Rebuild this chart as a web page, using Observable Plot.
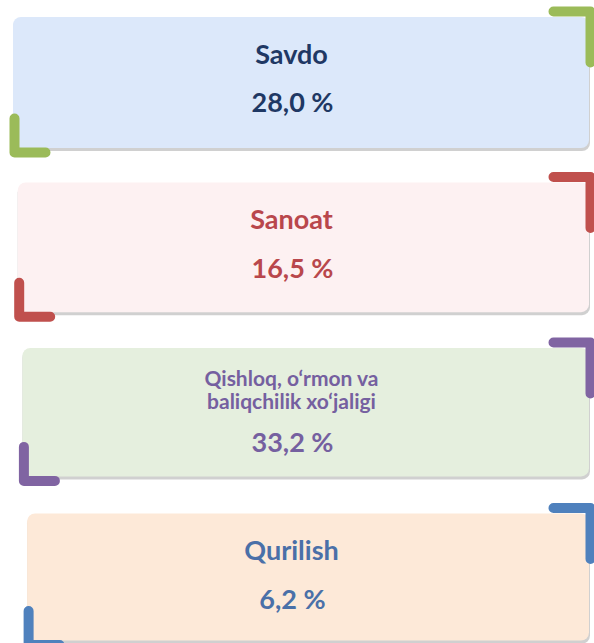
<!DOCTYPE html>
<html>
<head>
<meta charset="utf-8">
<script src="https://cdn.jsdelivr.net/npm/d3@7"></script>
<script src="https://cdn.jsdelivr.net/npm/@observablehq/plot@0.6"></script>
<style>
  html, body { margin: 0; padding: 0; background: #ffffff; }
  #chart svg { display: block; }
</style>
</head>
<body>
<div id="chart"></div>
<script>
// ---- data ----
const sectors = ["Savdo", "Sanoat", "Qishloq, o‘rmon va\nbaliqchilik xo‘jaligi", "Qurilish"];
const shares = [28.0, 16.5, 33.2, 6.2];
const accentColors = ["#9bbb59", "#c0504d", "#8064a2", "#4f81bd"];
const boxFills = ["#dce8fa", "#fdf1f2", "#e5efde", "#fde9d8"];
const textColors = ["#1f3864", "#b9474c", "#7560a0", "#4a70a8"];

// ---- layout (derived from row index) ----
const W = 594, H = 643;
const fmt = v => d3.format(".1f")(v).replace(".", ",") + " %";
const rows = sectors.map((s, i) => {
  const top = 17 + i * 165.5;
  const bottom = top + 131 - i * 1.3;
  const left = 13 + i * 4.7;
  const right = 589;
  return {i, sector: s, share: shares[i], label: fmt(shares[i]), top, bottom, left, right,
    multiline: s.includes("\n")};
});

const brackets = [];
rows.forEach(r => {
  const tr = [[553, r.top - 6], [590, r.top - 6], [590, r.top + 45]];
  const bl = [[r.left + 1, r.bottom - 30], [r.left + 1, r.bottom + 4], [r.left + 32, r.bottom + 4]];
  tr.forEach(([x, y]) => brackets.push({id: r.i + "tr", i: r.i, x, y}));
  bl.forEach(([x, y]) => brackets.push({id: r.i + "bl", i: r.i, x, y}));
});

const labelRows = rows.map(r => ({...r, y: r.multiline ? r.top + 42 : r.top + 37}));
const valueRows = rows.map(r => ({...r, y: r.multiline ? r.top + 95 : r.top + 86}));

const chart = Plot.plot({
  width: W,
  height: H,
  margin: 0,
  x: {domain: [0, W], range: [0, W], axis: null},
  y: {domain: [0, H], range: [0, H], axis: null},
  marks: [
    // shadow
    Plot.rect(rows, {x1: "left", x2: d => d.right + 1, y1: d => d.top + 2, y2: d => d.bottom + 3,
      fill: "#c4c4c4", rx: 8, fillOpacity: 0.8}),
    // boxes
    Plot.rect(rows, {x1: "left", x2: "right", y1: "top", y2: "bottom",
      fill: d => boxFills[d.i], rx: 8}),
    // brackets
    Plot.line(brackets, {x: "x", y: "y", z: "id", stroke: d => d3.color(accentColors[d.i]).darker(0.5),
      strokeWidth: 13, strokeLinecap: "round", strokeLinejoin: "round"}),
    Plot.line(brackets, {x: "x", y: "y", z: "id", stroke: d => accentColors[d.i],
      strokeWidth: 10, strokeLinecap: "round", strokeLinejoin: "round"}),
    Plot.line(brackets, {x: "x", y: "y", z: "id", stroke: d => d3.color(accentColors[d.i]).brighter(0.6),
      strokeWidth: 3, strokeOpacity: 0.6, strokeLinecap: "round", strokeLinejoin: "round"}),
    // sector names
    Plot.text(labelRows, {x: () => 291, y: "y", text: "sector", fill: d => textColors[d.i],
      fontFamily: "Lato", fontWeight: 700, fontSize: d => d.multiline ? 21 : 27,
      lineHeight: 1.08, lineAnchor: "middle", textAnchor: "middle"}),
    // values
    Plot.text(valueRows, {x: () => 292, y: "y", text: "label", fill: d => textColors[d.i],
      fontFamily: "Lato", fontWeight: 700, fontSize: 27, lineAnchor: "middle", textAnchor: "middle"})
  ]
});
document.getElementById("chart").appendChild(chart);
</script>
</body>
</html>
